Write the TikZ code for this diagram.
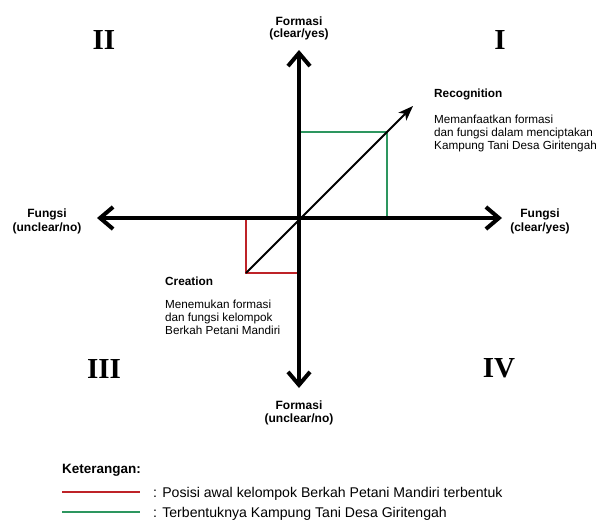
\documentclass[tikz,border=0pt]{standalone}
\usepackage{fontspec}
\setmainfont{Liberation Sans}
\newfontfamily\numfont{Liberation Serif}
\usetikzlibrary{arrows.meta}
\definecolor{cred}{RGB}{190,35,40}
\definecolor{cgreen}{RGB}{45,150,95}
\begin{document}
\begin{tikzpicture}[x=1pt,y=-1pt,
  axis/.style={line width=4pt,-{Straight Barb[length=13pt,width=22pt]}},
  diag/.style={line width=2pt,-{Stealth[length=15pt,width=11pt,inset=4pt]}},
  redline/.style={cred,line width=1.5pt},
  greenline/.style={cgreen,line width=1.5pt},
  axlabel/.style={inner sep=0pt,anchor=base,font=\fontsize{12}{13}\selectfont\bfseries},
  head/.style={inner sep=0pt,anchor=base west,font=\fontsize{11.8}{13}\selectfont\bfseries},
  body/.style={inner sep=0pt,anchor=base west,font=\fontsize{11.7}{13}\selectfont},
  quad/.style={inner sep=0pt,anchor=center,font=\fontsize{29}{30}\selectfont\numfont\bfseries},
  legtitle/.style={inner sep=0pt,anchor=base west,font=\fontsize{13.5}{15}\selectfont\bfseries},
  legtext/.style={inner sep=0pt,anchor=base west,font=\fontsize{14.1}{16}\selectfont}]
\useasboundingbox (0,0) rectangle (597,520);
\fill[white] (0,0) rectangle (597,520);
% coordinates
\coordinate (O) at (299,218);
\coordinate (T) at (299,50);
\coordinate (B) at (299,388);
\coordinate (L) at (97,218);
\coordinate (R) at (502,218);
\coordinate (RC) at (246,273);
\coordinate (GC) at (387,132);
\coordinate (D) at (413,106);
% rectangles
\draw[greenline] (O |- GC) -- (GC) -- (GC |- O);
\draw[redline] (RC |- O) -- (RC) -- (O |- RC);
% axes
\draw[axis] (O) -- (T);
\draw[axis] (O) -- (B);
\draw[axis] (O) -- (L);
\draw[axis] (O) -- (R);
\draw[diag] (RC) -- (D);
% quadrant numerals
\node[quad] (q2) at (104,40) {II};
\node[quad] (q1) at (500,40) {I};
\node[quad] (q3) at (104,369) {III};
\node[quad] (q4) at (499,368) {IV};
% axis labels
\node[axlabel] (tl1) at (299,25) {Formasi};
\node[axlabel] (tl2) at (299,37) {(clear/yes)};
\node[axlabel] (bl1) at (299,409) {Formasi};
\node[axlabel] (bl2) at (299,422) {(unclear/no)};
\node[axlabel] (ll1) at (47,217) {Fungsi};
\node[axlabel] (ll2) at (47,231) {(unclear/no)};
\node[axlabel] (rl1) at (540,217) {Fungsi};
\node[axlabel] (rl2) at (540,231) {(clear/yes)};
% recognition
\node[head] (rh) at (434,97) {Recognition};
\node[body] (rb1) at (434,123) {Memanfaatkan formasi};
\node[body] (rb2) at (434,136) {dan fungsi dalam menciptakan};
\node[body] (rb3) at (434,149) {Kampung Tani Desa Giritengah};
% creation
\node[head] (ch) at (165,285) {Creation};
\node[body] (cb1) at (165,308) {Menemukan formasi};
\node[body] (cb2) at (165,321) {dan fungsi kelompok};
\node[body] (cb3) at (165,334) {Berkah Petani Mandiri};
% legend
\node[legtitle] (kt) at (62,473) {Keterangan:};
\coordinate (ra) at (62,492);
\coordinate (rb) at (140,492);
\coordinate (ga) at (62,512);
\coordinate (gb) at (140,512);
\draw[cred,line width=2.7pt] (ra) -- (rb);
\draw[cgreen,line width=2.7pt] (ga) -- (gb);
\node[legtext] (lt1) at (153,497) {: Posisi awal kelompok Berkah Petani Mandiri terbentuk};
\node[legtext] (lt2) at (153,517) {: Terbentuknya Kampung Tani Desa Giritengah};
\end{tikzpicture}
\end{document}
